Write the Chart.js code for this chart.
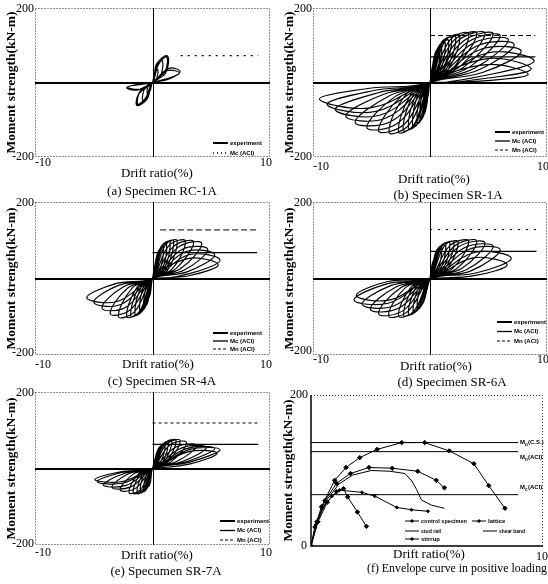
<!DOCTYPE html>
<html>
<head>
<meta charset="utf-8">
<script src="https://cdn.jsdelivr.net/npm/chart.js@4.4.0/dist/chart.umd.min.js"></script>
<style>
  html, body { margin: 0; padding: 0; background: #fff; }
  #wrap { position: relative; width: 548px; height: 584px; overflow: hidden; }
  #wrap canvas { position: absolute; left: 0; top: 0; }
</style>
</head>
<body>
<div id="wrap">
  <canvas id="pa" width="548" height="584"></canvas>
  <canvas id="pb" width="548" height="584"></canvas>
  <canvas id="pc" width="548" height="584"></canvas>
  <canvas id="pd" width="548" height="584"></canvas>
  <canvas id="pe" width="548" height="584"></canvas>
  <canvas id="pf" width="548" height="584"></canvas>
</div>
<script>
// half cycles:
// [tip drift, tip moment, outer-branch drift, outer moment, inner-branch drift, inner moment]
var rc1aPos = [
  [0.45, 35, 0.2, 25, 0.3, 6],
  [0.85, 58, 0.35, 44, 0.65, 14],
  [1.2, 68, 0.4, 46, 1.05, 28],
  [1.25, 72, 0.35, 50, 1.15, 32],
  [1.3, 70, 0.5, 48, 1.1, 24],
  [2.35, 29, 1.4, 38, 1.3, 8],
  [2.3, 25, 1.3, 32, 1.2, 10]
];
var rc1aNeg = [
  [-0.45, -30, -0.2, -22, -0.3, -5],
  [-0.85, -48, -0.4, -38, -0.6, -12],
  [-1.3, -60, -0.5, -40, -1.1, -26],
  [-1.33, -62, -0.45, -44, -1.15, -30],
  [-1.25, -58, -0.6, -42, -1.0, -20],
  [-2.2, -14, -1.2, -20, -1.2, -4],
  [-2.15, -12, -1.1, -18, -1.1, -6]
];
var sr1aPos = [
  [0.45, 55, 0.2, 42, 0.25, 8],
  [0.85, 88, 0.4, 72, 0.5, 16],
  [1.0, 96, 0.45, 80, 0.6, 18],
  [1.3, 107, 0.65, 92, 0.8, 22],
  [1.6, 112, 0.8, 100, 1.0, 24],
  [1.85, 120, 0.95, 106, 1.1, 28],
  [2.2, 122, 1.1, 108, 1.3, 30],
  [2.55, 126, 1.3, 112, 1.5, 32],
  [3.3, 131, 1.7, 114, 2.0, 38],
  [4.0, 133, 2.0, 112, 2.2, 42],
  [4.7, 133, 2.4, 112, 2.6, 44],
  [5.4, 131, 2.8, 110, 3.0, 44],
  [6.0, 126, 3.2, 108, 3.4, 42],
  [6.7, 115, 3.6, 104, 3.8, 38],
  [7.2, 102, 4.0, 98, 4.2, 34],
  [7.8, 84, 4.4, 90, 4.6, 28],
  [8.9, 58, 5.0, 80, 5.2, 22],
  [8.65, 36, 4.9, 64, 5.0, 12],
  [8.4, 22, 4.8, 48, 4.9, 5]
];
var sr1aNeg = [
  [-0.3, -45, -0.15, -34, -0.2, -7],
  [-0.6, -80, -0.3, -64, -0.4, -14],
  [-0.85, -95, -0.4, -78, -0.55, -16],
  [-1.1, -107, -0.55, -90, -0.7, -20],
  [-1.5, -116, -0.75, -100, -0.9, -22],
  [-1.85, -124, -0.95, -106, -1.1, -26],
  [-2.3, -128, -1.2, -110, -1.35, -28],
  [-2.7, -133, -1.4, -114, -1.6, -30],
  [-3.5, -134, -1.8, -114, -2.1, -34],
  [-4.4, -130, -2.2, -112, -2.5, -38],
  [-5.4, -121, -2.8, -110, -3.0, -38],
  [-6.4, -107, -3.3, -104, -3.5, -36],
  [-7.2, -90, -3.8, -96, -4.0, -32],
  [-8.1, -72, -4.3, -88, -4.5, -28],
  [-8.8, -58, -4.7, -78, -4.9, -22],
  [-9.45, -44, -5.1, -68, -5.3, -16]
];
var sr4aPos = [
  [0.5, 52, 0.25, 40, 0.3, 8],
  [0.94, 83, 0.45, 68, 0.55, 14],
  [1.2, 90, 0.6, 76, 0.75, 16],
  [1.5, 96, 0.75, 84, 0.9, 18],
  [1.8, 98, 0.9, 86, 1.05, 19],
  [2.1, 99, 1.1, 88, 1.25, 20],
  [2.8, 98, 1.4, 86, 1.65, 24],
  [3.5, 96, 1.8, 84, 2.0, 26],
  [4.2, 92, 2.2, 82, 2.4, 26],
  [4.7, 76, 2.5, 76, 2.7, 22],
  [5.3, 62, 2.8, 70, 3.0, 18],
  [5.75, 48, 3.1, 62, 3.3, 14],
  [5.6, 36, 3.0, 52, 3.2, 8]
];
var sr4aNeg = [
  [-0.34, -51, -0.17, -38, -0.2, -8],
  [-0.77, -77, -0.4, -62, -0.45, -13],
  [-1.1, -88, -0.6, -74, -0.7, -16],
  [-1.5, -95, -0.8, -82, -0.9, -18],
  [-1.85, -98, -0.95, -84, -1.1, -20],
  [-2.2, -100, -1.1, -86, -1.3, -22],
  [-2.9, -100, -1.5, -86, -1.7, -24],
  [-3.6, -92, -1.9, -82, -2.1, -25],
  [-4.3, -77, -2.3, -76, -2.5, -22],
  [-5.0, -62, -2.7, -68, -2.9, -18],
  [-5.6, -50, -3.0, -60, -3.2, -14]
];
var sr6aPos = [
  [0.43, 53, 0.2, 40, 0.25, 8],
  [1.0, 84, 0.5, 70, 0.6, 14],
  [1.35, 90, 0.7, 78, 0.8, 16],
  [1.7, 93, 0.9, 84, 1.0, 18],
  [2.05, 95, 1.05, 85, 1.2, 20],
  [2.4, 96, 1.25, 86, 1.4, 22],
  [3.3, 98, 1.7, 86, 1.9, 25],
  [4.0, 98, 2.1, 85, 2.3, 26],
  [4.7, 93, 2.5, 84, 2.7, 26],
  [5.4, 84, 2.9, 80, 3.1, 23],
  [6.0, 75, 3.3, 76, 3.5, 20],
  [6.95, 53, 3.8, 68, 4.0, 15],
  [6.6, 36, 3.7, 54, 3.9, 8]
];
var sr6aNeg = [
  [-0.57, -44, -0.3, -33, -0.35, -6],
  [-1.1, -76, -0.55, -62, -0.65, -12],
  [-1.45, -86, -0.75, -72, -0.85, -15],
  [-1.85, -93, -1.0, -80, -1.1, -18],
  [-2.25, -96, -1.2, -84, -1.35, -20],
  [-2.7, -98, -1.4, -86, -1.6, -22],
  [-3.55, -98, -1.9, -86, -2.1, -24],
  [-4.4, -92, -2.3, -84, -2.5, -24],
  [-5.1, -80, -2.7, -78, -2.9, -22],
  [-5.8, -67, -3.1, -72, -3.3, -18],
  [-6.5, -56, -3.5, -64, -3.7, -14],
  [-6.3, -44, -3.4, -56, -3.6, -8]
];
var sr7aPos = [
  [0.65, 42, 0.3, 32, 0.35, 6],
  [1.08, 64, 0.5, 52, 0.6, 11],
  [1.35, 70, 0.7, 58, 0.8, 13],
  [1.65, 73, 0.85, 62, 0.95, 15],
  [2.0, 74, 1.0, 63, 1.15, 16],
  [2.35, 73, 1.2, 64, 1.3, 17],
  [2.9, 68, 1.5, 62, 1.6, 18],
  [3.8, 60, 2.0, 56, 2.1, 19],
  [4.6, 55, 2.5, 54, 2.6, 19],
  [5.3, 52, 2.9, 52, 3.0, 19],
  [5.75, 49, 3.2, 50, 3.3, 18],
  [5.5, 40, 3.1, 44, 3.2, 12]
];
var sr7aNeg = [
  [-0.34, -47, -0.17, -35, -0.2, -7],
  [-0.77, -60, -0.4, -48, -0.45, -11],
  [-1.05, -63, -0.55, -52, -0.65, -12],
  [-1.33, -65, -0.7, -56, -0.8, -13],
  [-1.65, -64, -0.85, -56, -1.0, -13],
  [-2.0, -63, -1.05, -56, -1.2, -14],
  [-2.75, -56, -1.45, -52, -1.6, -14],
  [-3.46, -49, -1.85, -48, -2.0, -13],
  [-4.2, -43, -2.25, -44, -2.4, -13],
  [-4.7, -34, -2.5, -38, -2.7, -11],
  [-4.9, -29, -2.6, -34, -2.8, -9]
];

// ACI strength lines for (a)-(e): moment, drift where it starts, drift where it ends
var mcMoment = [72, 69, 67.5, 71, 63];
var mcFrom = [2.4, 0, 0, 0, 0];
var mnMoment = [null, 126, 127, 128, 119];
var mnFrom = [null, 0, 0.65, 0, 0];
var lineTo = [9, 9, 8.9, 9.1, 9];

// (f) envelope curves in positive loading
var envNames = ['control specimen', 'lattice', 'stud rail', 'shear band', 'stirrup'];
var controlD = [0, 0.17, 0.45, 1.02, 1.51, 2.1, 2.85, 3.91, 4.9, 5.96, 7.02, 7.66, 8.36];
var controlM = [0, 25, 52, 87, 104, 117, 128, 137, 137, 126, 109, 80, 50];
var latticeD = [0, 0.25, 0.6, 1.1, 1.7, 2.5, 3.5, 4.6, 5.4, 5.75];
var latticeM = [0, 32, 60, 83, 96, 104, 103, 99, 87, 77];
var studD = [0, 0.3, 0.7, 1.2, 1.8, 2.6, 3.4, 4.05, 4.35, 4.55, 4.76, 5.2, 5.75];
var studM = [0, 35, 62, 82, 94, 100, 99, 96, 86, 75, 61, 54, 50];
var bandD = [0, 0.2, 0.5, 0.9, 1.23, 2.2, 2.75, 3.7, 4.33, 5.04];
var bandM = [0, 28, 50, 66, 74, 71, 66, 51, 48, 46];
var stirrupD = [0, 0.3, 0.7, 1.1, 1.4, 1.58, 2.0, 2.39];
var stirrupM = [0, 32, 58, 72, 76, 65, 45, 26];
var refNames = ['u(C.S.)', 'n(ACI)', 'c(ACI)'];
var refMoment = [137, 125, 68];
var refTo = 8.93;

var serif = "'Liberation Serif', 'Times New Roman', serif";
var small = "bold 6px 'Liberation Sans', Arial, sans-serif";

function leafPath(pos, neg) {
  var pts = [{x: 0, y: 0}];
  var n = Math.max(pos.length, neg.length);
  for (var i = 0; i < n; i++) {
    [pos[i], neg[i]].forEach(function (h) {
      if (!h) return;
      pts.push({x: h[2], y: h[3]}, {x: h[0], y: h[1]}, {x: h[4], y: h[5]}, {x: 0, y: 0});
    });
  }
  return pts;
}

function pairs(xs, ys) {
  return xs.map(function (v, i) { return {x: v, y: ys[i]}; });
}

function text(ctx, s, x, y, font, align, maxW) {
  ctx.font = font;
  ctx.textAlign = align || 'center';
  ctx.textBaseline = 'middle';
  ctx.fillStyle = '#000';
  if (maxW) ctx.fillText(s, x, y, maxW);
  else ctx.fillText(s, x, y);
}

function ytitle(ctx, x, y) {
  ctx.save();
  ctx.translate(x, y);
  ctx.rotate(-Math.PI / 2);
  text(ctx, 'Moment strength(kN-m)', 0, 0, 'bold 13.5px ' + serif, 'center', 152);
  ctx.restore();
}

function sample(ctx, x, y, w, width, dash) {
  ctx.save();
  ctx.strokeStyle = '#000';
  ctx.lineWidth = width;
  ctx.setLineDash(dash || []);
  ctx.beginPath();
  ctx.moveTo(x, y);
  ctx.lineTo(x + w, y);
  ctx.stroke();
  ctx.restore();
}

function dottedFrame(ctx, a) {
  ctx.save();
  ctx.strokeStyle = '#222';
  ctx.lineWidth = 1;
  ctx.setLineDash([1, 2]);
  ctx.strokeRect(a.left + 0.5, a.top + 0.5, a.right - a.left - 1, a.bottom - a.top - 1);
  ctx.restore();
}

// panel placement on the page
var frames = [
  {id: 'pa', L: 35, R: 270, T: 8, B: 157, tickY: 163, minY: 157, dx: [157, 174], cap: [162, 192], caption: '(a) Specimen RC-1A', leg: [213, 143, 10], pos: rc1aPos, neg: rc1aNeg},
  {id: 'pb', L: 313, R: 547, T: 8, B: 157, tickY: 167, minY: 157, dx: [434, 180], cap: [448, 196], caption: '(b) Specimen SR-1A', leg: [495, 132, 9], pos: sr1aPos, neg: sr1aNeg},
  {id: 'pc', L: 35, R: 270, T: 202, B: 355, tickY: 365, minY: 353, dx: [158, 365], cap: [162, 382], caption: '(c) Specimen SR-4A', leg: [213, 333, 8], pos: sr4aPos, neg: sr4aNeg},
  {id: 'pd', L: 313, R: 547, T: 202, B: 355, tickY: 360, minY: 351, dx: [436, 367], cap: [452, 383], caption: '(d) Specimen SR-6A', leg: [497, 322, 9.5], pos: sr6aPos, neg: sr6aNeg},
  {id: 'pe', L: 35, R: 270, T: 392, B: 545, tickY: 553, minY: 544, dx: [157, 556], cap: [166, 572], caption: '(e) Specumen SR-7A', leg: [220, 521, 9.5], pos: sr7aPos, neg: sr7aNeg}
];
var mnDash = [null, [5, 3], [6, 3], [2, 6], [3, 3]];

frames.forEach(function (f, k) {
  var datasets = [{
    data: leafPath(f.pos, f.neg),
    showLine: true, borderColor: '#000', borderWidth: 1.15,
    pointRadius: 0, tension: 0.4
  }, {
    data: [{x: mcFrom[k], y: mcMoment[k]}, {x: lineTo[k], y: mcMoment[k]}],
    showLine: true, borderColor: '#000', borderWidth: 1.3, pointRadius: 0,
    borderDash: k === 0 ? [2, 5] : []
  }];
  if (mnMoment[k] !== null) {
    datasets.push({
      data: [{x: mnFrom[k], y: mnMoment[k]}, {x: lineTo[k], y: mnMoment[k]}],
      showLine: true, borderColor: '#000', borderWidth: 1, pointRadius: 0,
      borderDash: mnDash[k]
    });
  }
  var decor = {
    id: 'decor' + k,
    beforeDatasetsDraw: function (chart) {
      var ctx = chart.ctx, a = chart.chartArea;
      var x0 = Math.round(chart.scales.x.getPixelForValue(0)) + 0.5;
      var y0 = Math.round(chart.scales.y.getPixelForValue(0));
      dottedFrame(ctx, a);
      ctx.save();
      ctx.strokeStyle = '#000';
      ctx.lineWidth = 1;
      ctx.beginPath();
      ctx.moveTo(x0, a.top); ctx.lineTo(x0, a.bottom);
      ctx.stroke();
      ctx.lineWidth = 1.8;
      ctx.beginPath();
      ctx.moveTo(a.left, y0); ctx.lineTo(a.right, y0);
      ctx.stroke();
      ctx.restore();
    },
    afterDraw: function (chart) {
      var ctx = chart.ctx, a = chart.chartArea;
      var tf = '12px ' + serif;
      text(ctx, '200', a.left - 1, a.top + 1, tf, 'right');
      text(ctx, '-200', a.left - 1, f.minY, tf, 'right');
      text(ctx, '-10', a.left, f.tickY, tf, 'left');
      text(ctx, '10', a.right + 2, f.tickY, tf, 'right');
      text(ctx, 'Drift ratio(%)', f.dx[0], f.dx[1], '13px ' + serif);
      text(ctx, f.caption, f.cap[0], f.cap[1], '13px ' + serif);
      ytitle(ctx, a.left - 23, (a.top + a.bottom) / 2);
      var lx = f.leg[0], ly = f.leg[1], gap = f.leg[2];
      sample(ctx, lx, ly, 15, 2);
      text(ctx, 'experiment', lx + 17, ly, small, 'left', 34);
      if (k === 0) {
        sample(ctx, lx, ly + gap, 15, 1.3, [1, 3]);
      } else {
        sample(ctx, lx, ly + gap, 15, 1.3);
      }
      text(ctx, 'Mc (ACI)', lx + 17, ly + gap, small, 'left');
      if (mnMoment[k] !== null) {
        sample(ctx, lx, ly + 2 * gap, 15, 1, [3, 2]);
        text(ctx, 'Mn (ACI)', lx + 17, ly + 2 * gap, small, 'left');
      }
    }
  };
  new Chart(document.getElementById(f.id), {
    type: 'scatter',
    data: {datasets: datasets},
    options: {
      responsive: false,
      animation: false,
      devicePixelRatio: 1,
      events: [],
      layout: {padding: {left: f.L, top: f.T, right: 548 - f.R, bottom: 584 - f.B}},
      scales: {
        x: {type: 'linear', display: false, min: -10, max: 10},
        y: {type: 'linear', display: false, min: -200, max: 200}
      },
      plugins: {legend: {display: false}, tooltip: {enabled: false}}
    },
    plugins: [decor]
  });
});

// (f) envelope curves
var envD = [controlD, latticeD, studD, bandD, stirrupD];
var envM = [controlM, latticeM, studM, bandM, stirrupM];
var envMarker = [2.2, 2.2, 0, 1.6, 2.2];
var envSets = envD.map(function (d, i) {
  return {
    label: envNames[i],
    data: pairs(d, envM[i]),
    showLine: true, borderColor: '#000', backgroundColor: '#000',
    borderWidth: 1, tension: 0,
    pointRadius: envMarker[i], pointStyle: 'rectRot'
  };
});
refMoment.forEach(function (m) {
  envSets.push({
    data: [{x: 0, y: m}, {x: refTo, y: m}],
    showLine: true, borderColor: '#000', borderWidth: 1, pointRadius: 0
  });
});

new Chart(document.getElementById('pf'), {
  type: 'scatter',
  data: {datasets: envSets},
  options: {
    responsive: false,
    animation: false,
    devicePixelRatio: 1,
    events: [],
    layout: {padding: {left: 311, top: 395, right: 548 - 545, bottom: 584 - 546}},
    scales: {
      x: {type: 'linear', display: false, min: 0, max: 10},
      y: {type: 'linear', display: false, min: 0, max: 200}
    },
    plugins: {legend: {display: false}, tooltip: {enabled: false}}
  },
  plugins: [{
    id: 'decorF',
    beforeDatasetsDraw: function (chart) {
      var ctx = chart.ctx, a = chart.chartArea;
      ctx.save();
      ctx.strokeStyle = '#333';
      ctx.lineWidth = 1;
      ctx.setLineDash([1, 2]);
      ctx.beginPath();
      ctx.moveTo(a.left, a.top + 0.5); ctx.lineTo(a.right - 0.5, a.top + 0.5); ctx.lineTo(a.right - 0.5, a.bottom);
      ctx.stroke();
      ctx.setLineDash([]);
      ctx.strokeStyle = '#000';
      ctx.lineWidth = 1.5;
      ctx.beginPath();
      ctx.moveTo(a.left, a.top); ctx.lineTo(a.left, a.bottom); ctx.lineTo(a.right, a.bottom);
      ctx.stroke();
      ctx.restore();
    },
    afterDraw: function (chart) {
      var ctx = chart.ctx, a = chart.chartArea, ys = chart.scales.y;
      var tf = '12px ' + serif;
      text(ctx, '200', a.left - 3, a.top, tf, 'right');
      text(ctx, '0', a.left - 4, a.bottom, tf, 'right');
      text(ctx, '10', 548, 557, tf, 'right');
      text(ctx, 'Drift ratio(%)', 429, 555, '13px ' + serif);
      text(ctx, '(f) Envelope curve in positive loading', 457, 569, '13px ' + serif, 'center', 180);
      ytitle(ctx, a.left - 22, (a.top + a.bottom) / 2);
      // strength labels
      var offs = [0, 6, -7];
      refMoment.forEach(function (m, i) {
        var y = ys.getPixelForValue(m) + offs[i];
        text(ctx, 'M', 520, y, small, 'left');
        var w = ctx.measureText('M').width;
        text(ctx, refNames[i].charAt(0), 520 + w, y + 2, "bold 4.5px 'Liberation Sans', Arial, sans-serif", 'left');
        text(ctx, refNames[i].slice(1), 520 + w + 3, y, small, 'left', 22);
      });
      // legend
      var rows = [[405, 521, 0, 46], [472, 521, 1, 18], [405, 531, 2, 20], [483, 531, 3, 26], [405, 539, 4, 20]];
      rows.forEach(function (r) {
        var i = r[2];
        sample(ctx, r[0], r[1], 14, 1);
        if (envMarker[i] > 1.8) {
          ctx.save();
          ctx.fillStyle = '#000';
          ctx.beginPath();
          ctx.moveTo(r[0] + 7, r[1] - 2); ctx.lineTo(r[0] + 9, r[1]);
          ctx.lineTo(r[0] + 7, r[1] + 2); ctx.lineTo(r[0] + 5, r[1]);
          ctx.fill();
          ctx.restore();
        }
        text(ctx, envNames[i], r[0] + 16, r[1], small, 'left', r[3]);
      });
    }
  }]
});
</script>
</body>
</html>
